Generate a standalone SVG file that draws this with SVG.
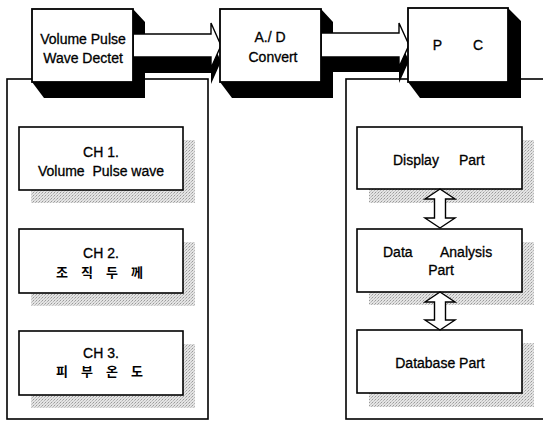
<svg xmlns="http://www.w3.org/2000/svg" width="543" height="422" viewBox="0 0 543 422">
  <defs>
    <!-- light stippled fill used for the drop shadows of the inner boxes -->
    <pattern id="stipple" width="3" height="3" patternUnits="userSpaceOnUse">
      <rect width="3" height="3" fill="#e4e4e4"/>
      <rect x="0" y="0" width="1" height="1" fill="#9a9a9a"/>
      <rect x="2" y="1" width="1" height="1" fill="#b5b5b5"/>
      <rect x="1" y="2" width="1" height="1" fill="#c8c8c8"/>
    </pattern>
    <style>
      .panel{fill:none;stroke:#000;stroke-width:1.6}
      .box{fill:#fff;stroke:#000;stroke-width:1.8}
      .inner{fill:#fff;stroke:#000;stroke-width:1.6}
      .ext{fill:#000}
      .shadow{fill:url(#stipple)}
      .face{fill:#fff;stroke:#000;stroke-width:1.4;stroke-linejoin:miter}
      .dbl{fill:#fff;stroke:#000;stroke-width:1.4}
      .t{font-family:"Liberation Sans",Arial,sans-serif;font-size:14px;fill:#000;stroke:#000;stroke-width:0.3}
      .k{font-family:"Noto Sans CJK KR","Noto Sans",sans-serif;font-size:13px;font-weight:bold;fill:#000}
    </style>
  </defs>

  <!-- container panels -->
  <g id="panel-channels">
    <rect class="panel" x="7" y="79" width="201" height="340"/>
  </g>
  <g id="panel-pc">
    <rect class="panel" x="346" y="79" width="230" height="340"/>
  </g>

  <!-- channel boxes -->
  <g id="ch1">
    <rect class="shadow" x="31" y="140" width="164" height="63"/>
    <rect class="inner" x="19" y="127" width="164" height="63"/>
    <text class="t" x="101" y="157" text-anchor="middle">CH 1.</text>
    <text class="t" x="101" y="176" text-anchor="middle" xml:space="preserve">Volume  Pulse wave</text>
  </g>
  <g id="ch2">
    <rect class="shadow" x="31" y="242" width="164" height="64"/>
    <rect class="inner" x="19" y="229" width="164" height="64"/>
    <text class="t" x="101" y="258" text-anchor="middle">CH 2.</text>
    <text class="k" x="62 87 112 137" y="277" text-anchor="middle">조직두께</text>
  </g>
  <g id="ch3">
    <rect class="shadow" x="31" y="344" width="164" height="64"/>
    <rect class="inner" x="19" y="331" width="164" height="64"/>
    <text class="t" x="101" y="358" text-anchor="middle">CH 3.</text>
    <text class="k" x="62 87 112 137" y="376" text-anchor="middle">피부온도</text>
  </g>

  <!-- PC software parts -->
  <g id="display-part">
    <rect class="shadow" x="369" y="140" width="165" height="63"/>
    <rect class="inner" x="357" y="127" width="165" height="62"/>
    <text class="t" y="165"><tspan x="393">Display</tspan> <tspan x="459">Part</tspan></text>
  </g>
  <g id="data-analysis-part">
    <rect class="shadow" x="369" y="242" width="165" height="63"/>
    <rect class="inner" x="357" y="229" width="165" height="63"/>
    <text class="t" y="257"><tspan x="383">Data</tspan> <tspan x="440">Analysis</tspan></text>
    <text class="t" x="441" y="275" text-anchor="middle">Part</text>
  </g>
  <g id="database-part">
    <rect class="shadow" x="369" y="343" width="165" height="64"/>
    <rect class="inner" x="357" y="330" width="165" height="63"/>
    <text class="t" x="440" y="368" text-anchor="middle">Database Part</text>
  </g>

  <!-- connectors: block arrows between the stages and double arrows between parts -->
  <g id="connectors">
    <!-- box extrusions sit under the arrows -->
    <polygon class="ext" points="133,9 145,22 145,98 44,98 32,82 133,82"/>
    <polygon class="ext" points="321,9 333,22 333,98 232,98 220,82 321,82"/>
    <polygon class="ext" points="508,8 521,21 521,98 420,98 408,82 508,82"/>

    <polygon class="ext" points="133,50 211,50 211,39 221,61.5 211,84 211,73 133,73"/>
    <polygon class="face" points="133,34 211,34 211,23 221,45.5 211,68 211,57 133,57"/>

    <polygon class="ext" points="321,49 399,49 399,39 409,61 399,83 399,72 321,72"/>
    <polygon class="face" points="321,33 399,33 399,23 409,45 399,67 399,57 321,57"/>

    <polygon class="dbl" points="440,189 455,199 445.5,199 445.5,218 455,218 440,228 425,218 434.5,218 434.5,199 425,199"/>
    <polygon class="dbl" points="440,292 455,302 445.5,302 445.5,320 455,320 440,330 425,320 434.5,320 434.5,302 425,302"/>
  </g>

  <!-- processing stages -->
  <g id="pulse-detect">
    <rect class="box" x="32" y="9" width="101" height="73"/>
    <text class="t" x="83" y="44" text-anchor="middle">Volume Pulse</text>
    <text class="t" x="83" y="63" text-anchor="middle">Wave Dectet</text>
  </g>
  <g id="ad-convert">
    <rect class="box" x="220" y="9" width="101" height="73"/>
    <text class="t" x="270" y="42" text-anchor="middle">A./ D</text>
    <text class="t" x="273" y="62" text-anchor="middle">Convert</text>
  </g>
  <g id="pc">
    <rect class="box" x="408" y="8" width="100" height="74"/>
    <text class="t" x="458" y="50" text-anchor="middle" xml:space="preserve">P        C</text>
  </g>
</svg>
